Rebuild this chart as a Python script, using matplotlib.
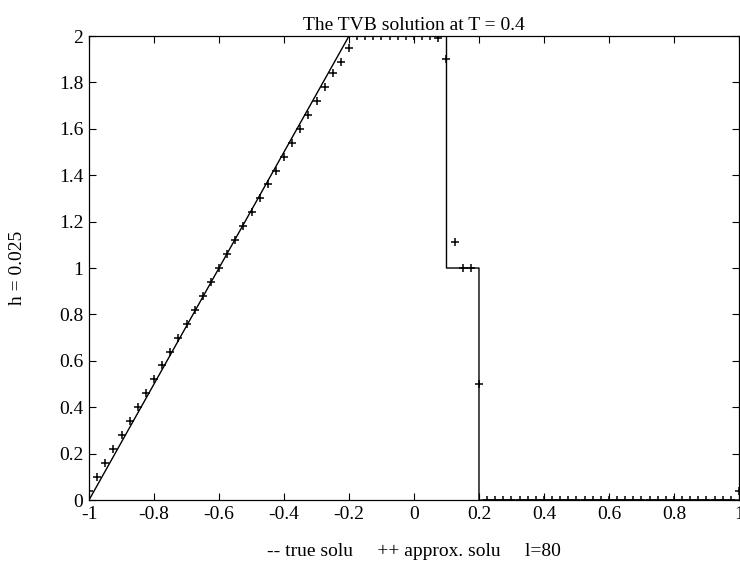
import matplotlib
matplotlib.use("Agg")
import matplotlib.pyplot as plt


# exact solution, corner points of the piecewise-linear profile
true_x = [-1.0, -0.2, 0.1, 0.1, 0.2, 0.2, 1.0]
true_y = [0.0, 2.0, 2.0, 1.0, 1.0, 0.0, 0.0]

# approximate solution, one value per grid point (h = 0.025)
approx_x = [-1.0 + 0.025 * i for i in range(81)]
approx_y = [
    0.04,
    0.10, 0.16, 0.22, 0.28, 0.34, 0.40, 0.46, 0.52, 0.58, 0.64,
    0.70, 0.76, 0.82, 0.88, 0.94, 1.00, 1.06, 1.12, 1.18, 1.24,
    1.30, 1.36, 1.42, 1.48, 1.54, 1.60, 1.66, 1.72, 1.78, 1.84,
    1.89, 1.95,
    2.0, 2.0, 2.0, 2.0, 2.0, 2.0, 2.0, 2.0, 2.0, 2.0,
    1.99, 1.90, 1.11, 1.00, 1.00, 0.50,
    0.0, 0.0, 0.0, 0.0, 0.0, 0.0, 0.0, 0.0, 0.0, 0.0,
    0.0, 0.0, 0.0, 0.0, 0.0, 0.0, 0.0, 0.0, 0.0, 0.0,
    0.0, 0.0, 0.0, 0.0, 0.0, 0.0, 0.0, 0.0, 0.0, 0.0,
    0.0,
    0.04,
]

x_ticks = [-1, -0.8, -0.6, -0.4, -0.2, 0, 0.2, 0.4, 0.6, 0.8, 1]
x_tick_labels = ["-1", "-0.8", "-0.6", "-0.4", "-0.2", "0", "0.2", "0.4", "0.6", "0.8", "1"]
y_ticks = [0, 0.2, 0.4, 0.6, 0.8, 1, 1.2, 1.4, 1.6, 1.8, 2]
y_tick_labels = ["0", "0.2", "0.4", "0.6", "0.8", "1", "1.2", "1.4", "1.6", "1.8", "2"]


def main():
    plt.rcParams['font.family'] = ['Liberation Serif', 'DejaVu Serif']
    plt.rcParams['font.size'] = 14

    fig = plt.figure(figsize=(7.4, 5.68), dpi=100)
    ax = fig.add_axes([0.1203, 0.1197, 0.8783, 0.8169])

    ax.plot(true_x, true_y, color='black', linewidth=1.0)
    ax.plot(approx_x, approx_y, linestyle='none', marker='+',
            markersize=6, markeredgewidth=1.1, color='black')

    ax.set_xlim(-1, 1)
    ax.set_ylim(0, 2)
    ax.set_xticks(x_ticks)
    ax.set_xticklabels(x_tick_labels)
    ax.set_yticks(y_ticks)
    ax.set_yticklabels(y_tick_labels)
    ax.tick_params(direction='in', length=5, width=0.8,
                   top=True, right=True, labelsize=14, pad=4)
    for spine in ax.spines.values():
        spine.set_linewidth(0.9)

    ax.set_title("The TVB solution at T = 0.4", fontsize=14, pad=4)
    ax.set_ylabel("h = 0.025", fontsize=14, labelpad=24)
    ax.set_xlabel("-- true solu     ++ approx. solu     l=80", fontsize=14, labelpad=15)

    fig.savefig("out.png", dpi=100)


if __name__ == '__main__':
    main()
